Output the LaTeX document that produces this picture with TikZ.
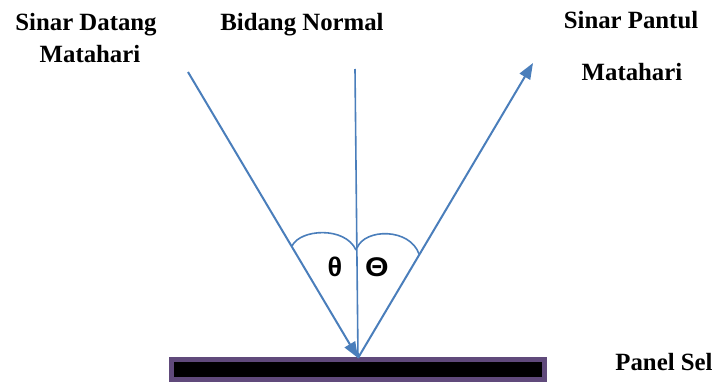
\documentclass[tikz,border=0pt]{standalone}
\usepackage{fontspec}
\setmainfont{Liberation Serif}
\newfontfamily\symfont{Liberation Sans}
\usetikzlibrary{arrows.meta}
\definecolor{raybl}{RGB}{74,126,187}
\definecolor{panelpurp}{RGB}{96,74,123}
\begin{document}
\begin{tikzpicture}[x=1pt,y=-1pt,
  lbl/.style={anchor=base,inner sep=0pt,font=\fontsize{24.8}{28}\selectfont\bfseries},
  ray/.style={draw=raybl,line width=2pt},
  tip/.style={-{Triangle[length=16pt,width=12pt]}},
  angarc/.style={draw=raybl,line width=1.6pt},
  ang/.style={inner sep=0pt,font=\symfont\fontsize{27}{30}\selectfont\bfseries}]
\useasboundingbox (0,0) rectangle (718,382);
% panel
\node[draw=panelpurp,line width=5pt,fill=black,minimum width=373pt,minimum height=20pt,inner sep=0pt] (panel) at (358,369.5) {};
% key points
\coordinate (P) at (358,358);
\coordinate (A) at (188,72);
\coordinate (N) at (355,69);
\coordinate (R) at (533,63);
% rays
\draw[ray,tip] (A) -- (P);
\draw[ray,line width=1.6pt] (N) -- (P);
\draw[ray,tip] (P) -- (R);
% angle arcs
\draw[angarc] (292,246) .. controls (300,229) and (345,226) .. (356,250);
\draw[angarc] (357,248) .. controls (365,228) and (410,228) .. (419,254);
\node[ang] (t1) at (335,267) {θ};
\node[ang,xscale=1.12] (t2) at (377,267) {Θ};
% labels
\node[lbl] (sd) at (86,30.5) {Sinar Datang};
\node[lbl] (m1) at (90,63) {Matahari};
\node[lbl] (bn) at (302,30.5) {Bidang Normal};
\node[lbl] (sp) at (631,29) {Sinar Pantul};
\node[lbl] (m2) at (632,81) {Matahari};
\node[lbl] (ps) at (664,370) {Panel Sel};
\end{tikzpicture}
\end{document}
